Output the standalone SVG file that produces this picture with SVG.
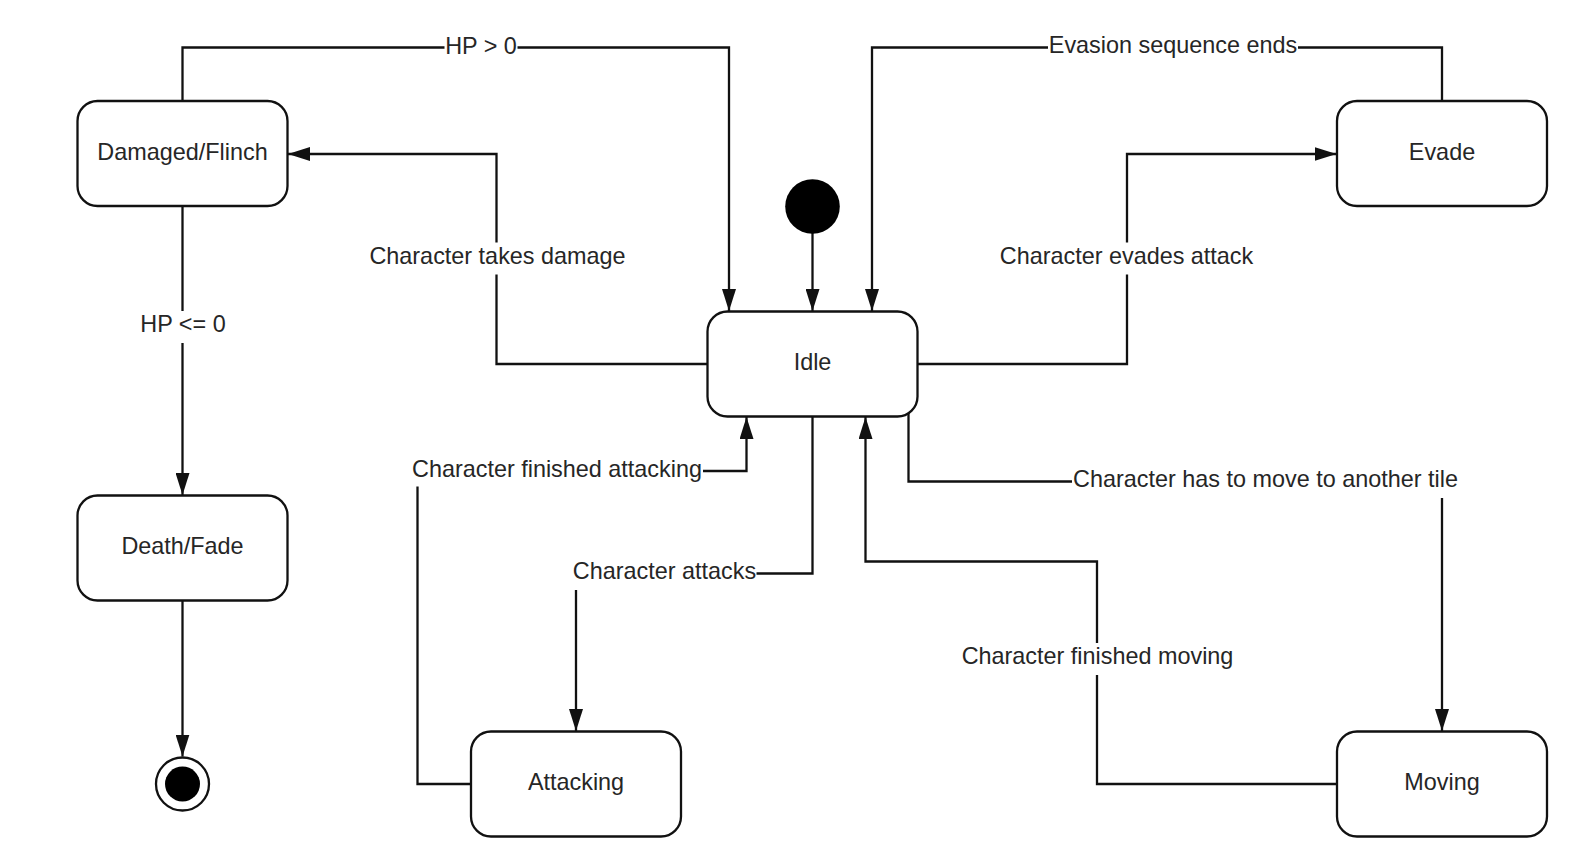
<svg xmlns="http://www.w3.org/2000/svg" width="1576" height="844" viewBox="0 0 1576 844">
<style>
.node{fill:#fff;stroke:#111;stroke-width:2.3}
.conn{fill:none;stroke:#111;stroke-width:2.3}
.lbl{font-family:"Liberation Sans",Arial,sans-serif;font-size:23.4px;fill:#262626;text-anchor:middle}
.bg{fill:#fff}
</style>
<defs>
<marker id="arr" markerUnits="userSpaceOnUse" markerWidth="22" markerHeight="14" viewBox="0 0 22 14" refX="22" refY="7" orient="auto">
<path d="M0,0 L22,7 L0,14 z" fill="#111"/>
</marker>
</defs>
<rect width="1576" height="844" fill="#fff"/>
<g id="connectors">
<path class="conn" d="M182.5 101 V47.5 H729 V311" marker-end="url(#arr)"/>
<path class="conn" d="M707.5 364 H496.5 V154 H288" marker-end="url(#arr)"/>
<path class="conn" d="M812.5 230 V311" marker-end="url(#arr)"/>
<path class="conn" d="M1442 101 V47.5 H872 V311" marker-end="url(#arr)"/>
<path class="conn" d="M917.5 364 H1127 V154 H1336.5" marker-end="url(#arr)"/>
<path class="conn" d="M908.5 413 V481.5 H1442 V731" marker-end="url(#arr)"/>
<path class="conn" d="M812.5 416.5 V573.5 H576 V731" marker-end="url(#arr)"/>
<path class="conn" d="M471 784 H417.5 V471 H746.5 V417" marker-end="url(#arr)"/>
<path class="conn" d="M1337 784 H1097 V561.5 H865.5 V417" marker-end="url(#arr)"/>
<path class="conn" d="M182.5 206 V495" marker-end="url(#arr)"/>
<path class="conn" d="M182.5 600.5 V756.5" marker-end="url(#arr)"/>
<rect class="bg" x="444.5" y="32" width="73" height="32"/>
<text class="lbl" x="481" y="53.5">HP &gt; 0</text>
<rect class="bg" x="368" y="242.5" width="259" height="32"/>
<text class="lbl" x="497.5" y="263.5">Character takes damage</text>
<rect class="bg" x="1048" y="31.5" width="250" height="32"/>
<text class="lbl" x="1173" y="53">Evasion sequence ends</text>
<rect class="bg" x="998" y="242.5" width="257" height="32"/>
<text class="lbl" x="1126.5" y="263.5">Character evades attack</text>
<rect class="bg" x="139.5" y="311" width="87" height="32"/>
<text class="lbl" x="183" y="332">HP &lt;= 0</text>
<rect class="bg" x="411" y="455.5" width="292" height="31"/>
<text class="lbl" x="557" y="476.5">Character finished attacking</text>
<rect class="bg" x="572.5" y="558" width="184" height="32"/>
<text class="lbl" x="664.5" y="579">Character attacks</text>
<rect class="bg" x="1072" y="466" width="387" height="32"/>
<text class="lbl" x="1265.5" y="487">Character has to move to another tile</text>
<rect class="bg" x="961" y="643" width="273" height="32"/>
<text class="lbl" x="1097.5" y="664">Character finished moving</text>
</g>
<g id="initial">
<circle cx="812.5" cy="206.5" r="27.3" fill="#000"/>
</g>
<g id="final">
<circle cx="182.5" cy="784" r="26.5" fill="#fff" stroke="#111" stroke-width="2.3"/>
<circle cx="182.5" cy="784" r="17.5" fill="#000"/>
</g>
<g id="damaged">
<rect class="node" x="77.5" y="101" width="210" height="105" rx="20"/>
<text class="lbl" x="182.5" y="159.5">Damaged/Flinch</text>
</g>
<g id="death">
<rect class="node" x="77.5" y="495.5" width="210" height="105" rx="20"/>
<text class="lbl" x="182.5" y="553.5">Death/Fade</text>
</g>
<g id="idle">
<rect class="node" x="707.5" y="311.5" width="210" height="105" rx="20"/>
<text class="lbl" x="812.5" y="369.5">Idle</text>
</g>
<g id="evade">
<rect class="node" x="1337" y="101" width="210" height="105" rx="20"/>
<text class="lbl" x="1442" y="159.5">Evade</text>
</g>
<g id="attacking">
<rect class="node" x="471" y="731.5" width="210" height="105" rx="20"/>
<text class="lbl" x="576" y="789.5">Attacking</text>
</g>
<g id="moving">
<rect class="node" x="1337" y="731.5" width="210" height="105" rx="20"/>
<text class="lbl" x="1442" y="789.5">Moving</text>
</g>
</svg>
